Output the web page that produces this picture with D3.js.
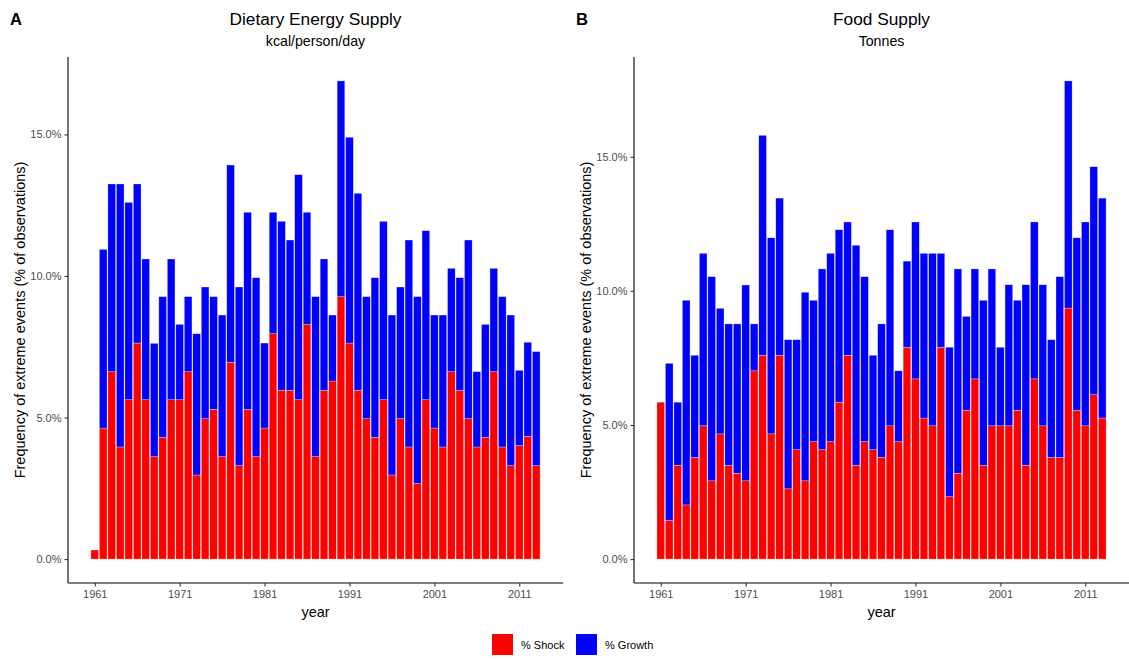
<!DOCTYPE html>
<html>
<head>
<meta charset="utf-8">
<script src="https://cdn.jsdelivr.net/npm/d3@7"></script>
<style>
  html, body { margin: 0; padding: 0; background: #fff; }
  svg { display: block; font-family: "Liberation Sans", Arial, sans-serif; }
</style>
</head>
<body>
<svg id="chart" width="1129" height="659"></svg>
<script>
// Years covered by both panels
const years = d3.range(1961, 2014);
const yearTicks = [1961, 1971, 1981, 1991, 2001, 2011];
const yTicks = [0, 5, 10, 15];

// Panel A: Dietary Energy Supply (kcal/person/day), % of observations
const desShock = [0.32, 4.63, 6.62, 3.96, 5.63, 7.63, 5.63, 3.62, 4.30, 5.63,
  5.63, 6.62, 2.97, 4.96, 5.29, 3.62, 6.95, 3.30, 5.29, 3.62,
  4.63, 7.96, 5.96, 5.96, 5.63, 8.29, 3.62, 5.96, 6.29, 9.27,
  7.63, 5.96, 4.96, 4.30, 5.63, 2.97, 4.96, 3.96, 2.67, 5.63,
  4.63, 3.96, 6.62, 5.96, 4.96, 3.96, 4.30, 6.62, 3.96, 3.30,
  4.01, 4.34, 3.30];
const desGrowth = [0.00, 6.31, 6.63, 9.29, 6.97, 5.62, 4.97, 4.00, 4.97, 4.97,
  2.66, 2.65, 4.99, 4.65, 3.98, 5.00, 6.97, 6.31, 6.96, 6.32,
  3.00, 4.29, 5.97, 5.31, 7.95, 3.96, 5.65, 4.64, 2.33, 7.62,
  7.27, 6.96, 4.31, 5.64, 6.30, 5.65, 4.65, 7.31, 6.60, 5.97,
  3.99, 4.66, 3.65, 3.98, 6.31, 2.66, 3.99, 3.65, 5.31, 5.32,
  2.66, 3.32, 4.03];

// Panel B: Food Supply (tonnes), % of observations
const fsShock = [5.85, 1.44, 3.50, 2.02, 3.79, 4.97, 2.92, 4.67, 3.50, 3.20,
  2.92, 7.02, 7.60, 4.67, 7.60, 2.62, 4.08, 2.92, 4.38, 4.08,
  4.38, 5.85, 7.60, 3.50, 4.38, 4.08, 3.79, 4.97, 4.38, 7.90,
  6.72, 5.26, 4.97, 7.90, 2.33, 3.20, 5.55, 6.72, 3.50, 4.97,
  4.97, 4.97, 5.55, 3.50, 6.72, 4.97, 3.79, 3.79, 9.36, 5.55,
  4.97, 6.13, 5.26];
const fsGrowth = [0.00, 5.86, 2.35, 7.63, 3.81, 6.43, 7.61, 4.68, 5.27, 5.57,
  7.30, 1.75, 8.20, 7.31, 5.86, 5.56, 4.10, 7.03, 5.27, 6.74,
  7.02, 6.43, 4.97, 8.20, 6.15, 3.52, 4.98, 7.31, 2.64, 3.21,
  5.85, 6.14, 6.43, 3.50, 5.57, 7.62, 3.50, 4.10, 6.15, 5.85,
  2.93, 5.26, 4.10, 6.73, 5.85, 5.26, 4.39, 6.74, 8.47, 6.43,
  7.60, 8.50, 8.20];

const seriesNames = ["% Shock", "% Growth"];
const seriesColors = ["#FF0000", "#0000FF"];

const svg = d3.select("#chart");
const textGrey = "#4D4D4D";

const panels = [
  { tag: "A", title: "Dietary Energy Supply", subtitle: "kcal/person/day",
    shock: desShock, growth: desGrowth, x0: 68, x1: 563, tagX: 10, ylabX: 20 },
  { tag: "B", title: "Food Supply", subtitle: "Tonnes",
    shock: fsShock, growth: fsGrowth, x0: 634, x1: 1129, tagX: 576, ylabX: 586 }
];

const yTop = 57, yBottom = 583;

panels.forEach(p => {
  const rows = years.map((yr, i) => ({ year: yr, shock: p.shock[i], growth: p.growth[i] }));
  const stack = d3.stack().keys(["shock", "growth"])(rows);
  const maxTotal = d3.max(rows, d => d.shock + d.growth);

  // continuous year scale with 5% padding around the bar extents
  const lo = years[0] - 0.5, hi = years[years.length - 1] + 0.5;
  const padX = (hi - lo) * 0.05;
  const x = d3.scaleLinear().domain([lo - padX, hi + padX]).range([p.x0, p.x1]);
  const y = d3.scaleLinear().domain([-0.05 * maxTotal, 1.05 * maxTotal]).range([yBottom, yTop]);
  const bw = (x(1) - x(0)) * 0.9;

  const g = svg.append("g");

  stack.forEach((layer, k) => {
    g.append("g")
      .selectAll("rect")
      .data(layer.filter(d => d[1] - d[0] > 0))
      .join("rect")
      .attr("x", d => x(d.data.year) - bw / 2)
      .attr("width", bw)
      .attr("y", d => y(d[1]))
      .attr("height", d => y(d[0]) - y(d[1]))
      .attr("fill", seriesColors[k])
      .attr("stroke", "#ffffff")
      .attr("stroke-opacity", 0.55)
      .attr("stroke-width", 0.5);
  });

  // y axis
  const yAxis = d3.axisLeft(y)
    .tickValues(yTicks)
    .tickSize(3.5)
    .tickPadding(3)
    .tickFormat(d => d.toFixed(1) + "%");
  const ya = g.append("g").attr("transform", `translate(${p.x0},0)`).call(yAxis);
  ya.select(".domain").attr("d", `M0,${yTop}V${yBottom}`).attr("stroke", "#000").attr("stroke-width", 1.1);
  ya.selectAll(".tick line").attr("stroke", "#333").attr("stroke-width", 1.1);
  ya.selectAll(".tick text").attr("fill", textGrey).attr("font-size", 11)
    .attr("font-family", "Liberation Sans, Arial, sans-serif");

  // x axis
  const xAxis = d3.axisBottom(x)
    .tickValues(yearTicks)
    .tickSize(3.5)
    .tickPadding(4)
    .tickFormat(d3.format("d"));
  const xa = g.append("g").attr("transform", `translate(0,${yBottom})`).call(xAxis);
  xa.select(".domain").attr("d", `M${p.x0},0H${p.x1}`).attr("stroke", "#000").attr("stroke-width", 1.1);
  xa.selectAll(".tick line").attr("stroke", "#333").attr("stroke-width", 1.1);
  xa.selectAll(".tick text").attr("fill", textGrey).attr("font-size", 11)
    .attr("font-family", "Liberation Sans, Arial, sans-serif");

  const cx = (p.x0 + p.x1) / 2;

  // titles
  svg.append("text").attr("x", cx).attr("y", 25).attr("text-anchor", "middle")
    .attr("font-size", 17.3).attr("fill", "#000").text(p.title);
  svg.append("text").attr("x", cx).attr("y", 46).attr("text-anchor", "middle")
    .attr("font-size", 14.2).attr("fill", "#000").text(p.subtitle);
  svg.append("text").attr("x", p.tagX).attr("y", 25)
    .attr("font-size", 16.6).attr("font-weight", "bold").attr("fill", "#000").text(p.tag);

  // axis titles
  svg.append("text").attr("x", cx).attr("y", 617).attr("text-anchor", "middle")
    .attr("font-size", 14.5).attr("fill", "#000").text("year");
  svg.append("text")
    .attr("transform", `translate(${p.ylabX},${(yTop + yBottom) / 2}) rotate(-90)`)
    .attr("text-anchor", "middle").attr("dy", "0.35em")
    .attr("font-size", 14.5).attr("fill", "#000")
    .text("Frequency of extreme events (% of observations)");
});

// legend
const legend = svg.append("g").attr("transform", "translate(492,634)");
const legendItems = legend.selectAll("g")
  .data(seriesNames)
  .join("g")
  .attr("transform", (d, i) => `translate(${i * 84},0)`);
legendItems.append("rect")
  .attr("width", 21).attr("height", 21)
  .attr("fill", (d, i) => seriesColors[i]);
legendItems.append("text")
  .attr("x", 29).attr("y", 11).attr("dy", "0.35em")
  .attr("font-size", 11).attr("fill", "#000")
  .text(d => d);
</script>
</body>
</html>
